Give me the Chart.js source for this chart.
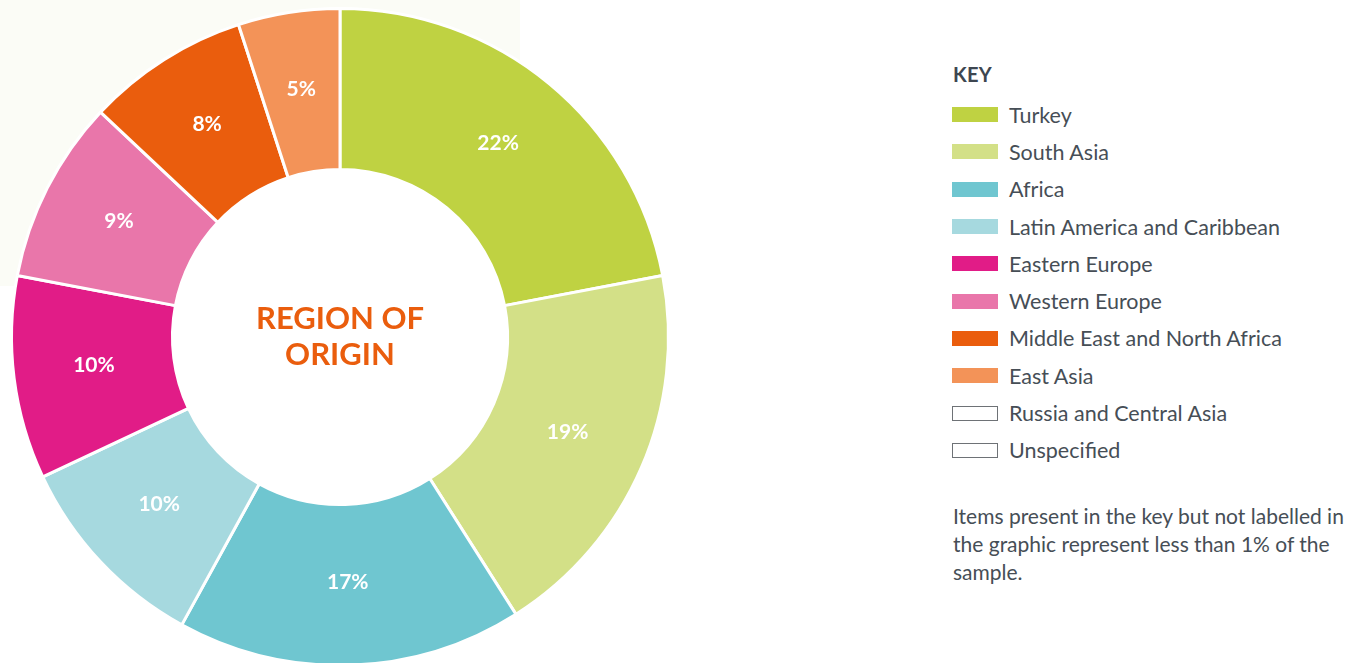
<!DOCTYPE html>
<html>
<head>
<meta charset="utf-8">
<script src="https://cdn.jsdelivr.net/npm/chart.js@4/dist/chart.umd.min.js"></script>
<style>
  html, body { margin: 0; padding: 0; background: #fff; overflow: hidden; }
  body { width: 1354px; height: 663px; position: relative; font-family: Lato, "Open Sans", sans-serif; }
  #panel { position: absolute; left: 0; top: 0; width: 520px; height: 286px; background: #fbfcf6; }
  #wrap { position: absolute; left: 0; top: 0; width: 680px; height: 674px; }
  #key { position: absolute; left: 952px; top: 62px; color: #464e56; }
  #key h3 { margin: 0 0 10px 1px; font-size: 20px; font-weight: 700; color: #3d4650; letter-spacing: 0.3px; }
  .row { display: flex; align-items: center; height: 37.3px; font-size: 21.5px; }
  .sw { width: 46px; height: 15px; margin-right: 11px; box-sizing: border-box; }
  #note { position: absolute; left: 953px; top: 502px; width: 402px; font-size: 21px; line-height: 28px; color: #464e56; }
</style>
</head>
<body>
<div id="panel"></div>
<div id="wrap"><canvas id="myChart"></canvas></div>
<div id="key"><h3>KEY</h3></div>
<div id="note">Items present in the key but not labelled in the graphic represent less than 1% of the sample.</div>
<script>
  // 지역별 비율 (%)
  const regions = ['Turkey', 'South Asia', 'Africa', 'Latin America and Caribbean', 'Eastern Europe',
    'Western Europe', 'Middle East and North Africa', 'East Asia', 'Russia and Central Asia', 'Unspecified']
  const shares = [22, 19, 17, 10, 10, 9, 8, 5, 0, 0]
  const colors = ['#bfd242', '#d3e087', '#6fc6d0', '#a6d9df', '#e11c87',
    '#e976aa', '#ea5d0d', '#f39358', '#ffffff', '#ffffff']

  // 범례(KEY) 만들기
  const key = document.getElementById('key')
  regions.forEach(function (name, i) {
    const row = document.createElement('div')
    row.className = 'row'
    const sw = document.createElement('div')
    sw.className = 'sw'
    sw.style.background = colors[i]
    if (shares[i] === 0) sw.style.border = '1.5px solid #6e7276'
    const label = document.createElement('span')
    label.textContent = name
    row.appendChild(sw)
    row.appendChild(label)
    key.appendChild(row)
  })

  // 가운데 구멍은 흰색으로 채운다
  const holeFill = {
    id: 'holeFill',
    beforeDatasetsDraw(chart) {
      const arc = chart.getDatasetMeta(0).data[0]
      if (!arc) return
      const ctx = chart.ctx
      ctx.save()
      ctx.fillStyle = '#ffffff'
      ctx.beginPath()
      ctx.arc(arc.x, arc.y, arc.innerRadius, 0, Math.PI * 2)
      ctx.fill()
      ctx.restore()
    }
  }

  // 조각 위에 퍼센트 표시 + 가운데 제목
  const sliceLabels = {
    id: 'sliceLabels',
    afterDatasetsDraw(chart) {
      const ctx = chart.ctx
      const meta = chart.getDatasetMeta(0)
      ctx.save()
      ctx.fillStyle = '#ffffff'
      ctx.font = '700 21px Lato, sans-serif'
      ctx.textAlign = 'center'
      ctx.textBaseline = 'middle'
      meta.data.forEach(function (arc, i) {
        if (!shares[i]) return
        const p = arc.getCenterPoint()
        ctx.fillText(shares[i] + '%', p.x, p.y - 3)
      })
      const cx = (chart.chartArea.left + chart.chartArea.right) / 2
      const cy = (chart.chartArea.top + chart.chartArea.bottom) / 2
      ctx.fillStyle = '#ea5d0d'
      ctx.font = '700 31px Lato, sans-serif'
      ctx.fillText('REGION OF', cx, cy - 18)
      ctx.fillText('ORIGIN', cx, cy + 18)
      ctx.restore()
    }
  }

  const chartArea = document.getElementById('myChart').getContext('2d')
  const myChart = new Chart(chartArea, {
    type: 'doughnut',
    data: {
      labels: regions,
      datasets: [{
        data: shares,
        backgroundColor: colors,
        borderColor: '#ffffff',
        borderWidth: 3
      }]
    },
    options: {
      responsive: true,
      maintainAspectRatio: false,
      animation: false,
      cutout: '51%',
      layout: { padding: { left: 10, right: 10, top: 7, bottom: 7 } },
      plugins: {
        legend: { display: false },
        tooltip: { enabled: false }
      }
    },
    plugins: [holeFill, sliceLabels]
  })
</script>
</body>
</html>
